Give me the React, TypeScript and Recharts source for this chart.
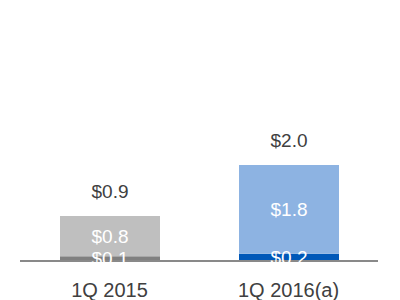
import React from "react";
import { Bar, BarChart, Cell, LabelList, XAxis, YAxis } from "recharts";

const categories = ["1Q 2015", "1Q 2016(a)"];
const baseValues = [0.1, 0.15];
const topValues = [0.84, 1.85];
const baseLabels = ["$0.1", "$0.2"];
const topLabels = ["$0.8", "$1.8"];
const totalLabels = ["$0.9", "$2.0"];

const BASE_COLORS = ["#7f7f7f", "#0058b8"];
const TOP_COLORS = ["#bfbfbf", "#8db3e2"];

const data = categories.map((name, i) => ({
  name,
  base: baseValues[i],
  top: topValues[i],
  baseLabel: baseLabels[i],
  topLabel: topLabels[i],
  totalLabel: totalLabels[i]
}));

const FONT = "'Liberation Sans', Arial, sans-serif";

export default function App() {
  return (
    <div style={{ position: "absolute", left: 0, top: 0, width: 400, height: 300, background: "#fff" }}>
      <BarChart
        width={400}
        height={300}
        data={data}
        margin={{ top: 21, right: 22, left: 20, bottom: 0 }}
        style={{ fontFamily: FONT }}
      >
        <YAxis hide domain={[0, 5]} />
        <XAxis
          dataKey="name"
          height={39}
          tickLine={false}
          tickMargin={16}
          axisLine={{ stroke: "#898989", strokeWidth: 2 }}
          tick={{ fill: "#404040", fontSize: 20, fontFamily: FONT }}
        />
        <Bar dataKey="base" stackId="a" barSize={100} isAnimationActive={false}>
          {data.map((d, i) => (
            <Cell key={d.name} fill={BASE_COLORS[i]} />
          ))}
          <LabelList dataKey="baseLabel" position="center" fill="#ffffff" fontSize={19} fontFamily={FONT} />
        </Bar>
        <Bar dataKey="top" stackId="a" barSize={100} isAnimationActive={false}>
          {data.map((d, i) => (
            <Cell key={d.name} fill={TOP_COLORS[i]} />
          ))}
          <LabelList dataKey="topLabel" position="center" fill="#ffffff" fontSize={19} fontFamily={FONT} />
          <LabelList dataKey="totalLabel" position="top" offset={18} fill="#404040" fontSize={19} fontFamily={FONT} />
        </Bar>
      </BarChart>
    </div>
  );
}
